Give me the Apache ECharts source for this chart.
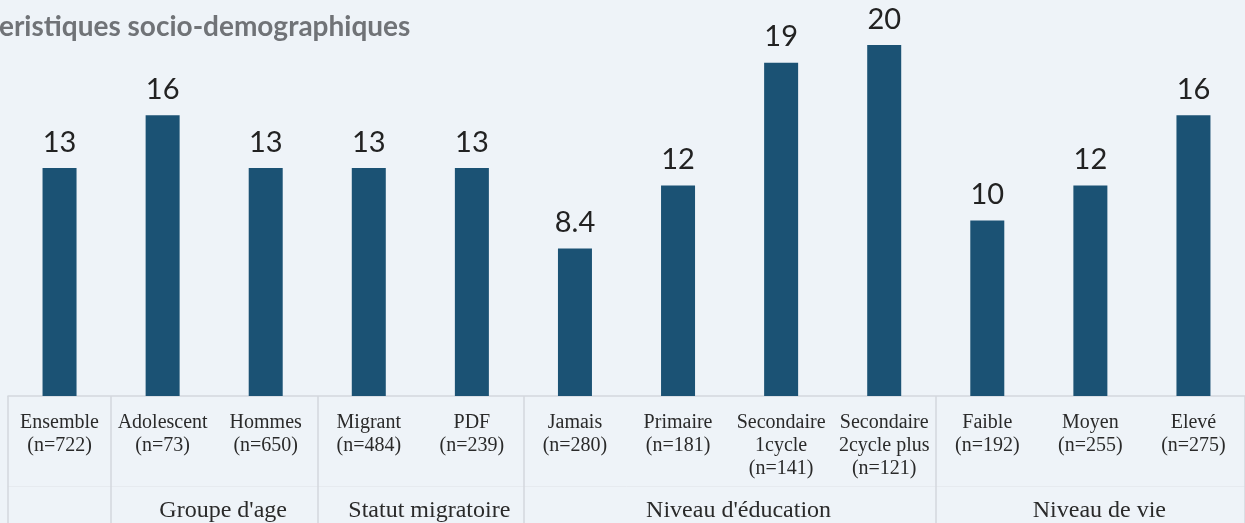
<!DOCTYPE html>
<html>
<head>
<meta charset="utf-8">
<script src="https://cdn.jsdelivr.net/npm/echarts@6/dist/echarts.min.js"></script>
<style>
  html, body { margin: 0; padding: 0; background: #eef3f8; }
  #chart { width: 1245px; height: 523px; }
</style>
</head>
<body>
<div id="chart"></div>
<script>
// categories (two-line labels) and values
const categories = [
  'Ensemble\n(n=722)', 'Adolescent\n(n=73)', 'Hommes\n(n=650)',
  'Migrant\n(n=484)', 'PDF\n(n=239)',
  'Jamais\n(n=280)', 'Primaire\n(n=181)', 'Secondaire\n1cycle\n(n=141)', 'Secondaire\n2cycle plus\n(n=121)',
  'Faible\n(n=192)', 'Moyen\n(n=255)', 'Elevé\n(n=275)'
];
const values = [13, 16, 13, 13, 13, 8.4, 12, 19, 20, 10, 12, 16];

// groups: name + first/last category index
const groupNames = ["Groupe d'age", 'Statut migratoire', "Niveau d'éducation", 'Niveau de vie'];
const groupStart = [1, 3, 5, 9];
const groupEnd = [3, 5, 9, 12];

const boundaries = [0].concat(groupStart, [12]);
const groupCenters = groupStart.map((s, i) => (s + groupEnd[i]) / 2);

const chart = echarts.init(document.getElementById('chart'));

const option = {
  backgroundColor: '#eef3f8',
  title: {
    text: 'Figure : Proportion des personnes ayant des symptômes (%) selon les\ncaracteristiques socio-demographiques',
    left: -82,
    top: -41,
    textStyle: {
      fontFamily: 'Lato',
      fontWeight: 'bold',
      fontSize: 28,
      lineHeight: 42,
      color: '#707377'
    }
  },
  grid: { left: 8, right: -6, top: 10, bottom: 126 },
  xAxis: [
    {
      type: 'category',
      data: categories,
      axisLine: { lineStyle: { color: '#d3d8dd', width: 1.5 } },
      axisTick: { show: false },
      axisLabel: {
        interval: 0,
        margin: 15,
        fontFamily: 'Liberation Serif',
        fontSize: 20,
        lineHeight: 23,
        color: '#2a2a2a'
      }
    },
    {
      // separators and group names
      type: 'value',
      min: 0,
      max: 12,
      position: 'bottom',
      axisLine: { show: false },
      splitLine: { show: false },
      axisTick: {
        show: true,
        customValues: boundaries,
        length: 130,
        lineStyle: { color: '#d3d8dd', width: 1.5 }
      },
      axisLabel: {
        customValues: groupCenters,
        margin: 103,
        padding: [0, 0, 0, 18],
        fontFamily: 'Liberation Serif',
        fontSize: 24,
        color: '#2a2a2a',
        formatter: function (v) {
          const i = groupCenters.indexOf(v);
          return i >= 0 ? groupNames[i] : '';
        }
      }
    },
    {
      // faint line between rows
      type: 'value',
      min: 0,
      max: 12,
      position: 'bottom',
      offset: 90,
      axisLine: { show: true, lineStyle: { color: '#e6eaef', width: 1 } },
      axisTick: { show: false },
      axisLabel: { show: false },
      splitLine: { show: false }
    }
  ],
  yAxis: {
    type: 'value',
    min: 0,
    max: 22,
    show: false,
    splitLine: { show: false }
  },
  series: [
    {
      type: 'bar',
      data: values,
      barWidth: 34,
      itemStyle: { color: '#1b5274' },
      label: {
        show: true,
        position: 'top',
        distance: 11,
        fontFamily: 'Lato',
        fontSize: 29,
        color: '#222',
        formatter: function (p) { return String(p.value); }
      }
    }
  ]
};

chart.setOption(option);
</script>
</body>
</html>
